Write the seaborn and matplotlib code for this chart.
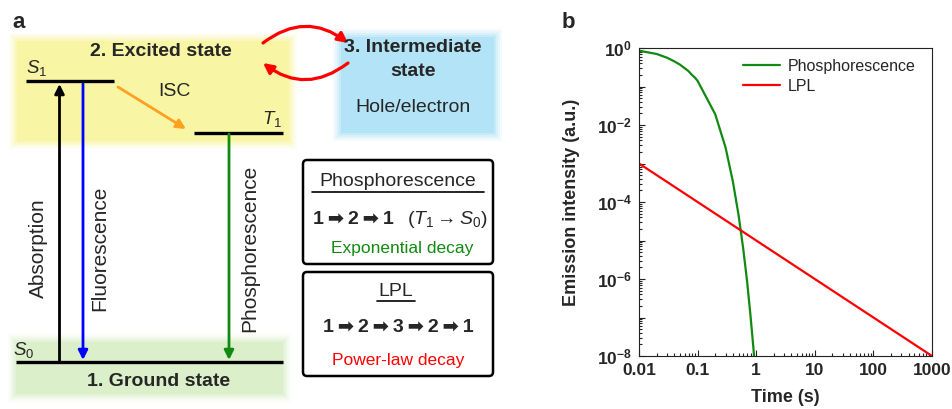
import matplotlib
matplotlib.use("Agg")
import numpy as np
import pandas as pd
import matplotlib.pyplot as plt
import seaborn as sns
from matplotlib.patches import Rectangle, FancyBboxPatch
from matplotlib.ticker import LogLocator, FuncFormatter, FixedLocator, NullFormatter

# ---- panel b data ----
ph_time = [0.01, 0.02, 0.03, 0.04, 0.05, 0.06, 0.07, 0.08, 0.09, 0.1,
           0.2, 0.3, 0.4, 0.5, 0.6, 0.7, 0.8, 0.9, 1.0]
ph_intensity = [0.85, 0.70, 0.56, 0.45, 0.37, 0.30, 0.25, 0.20, 0.17, 0.14,
                0.019, 2.6e-3, 3.4e-4, 4.6e-5, 6.2e-6, 8.5e-7, 1.1e-7, 1.5e-8, 2.0e-9]
lpl_time = [0.01, 0.1, 1, 10, 100, 1000]
lpl_intensity = [1e-3, 1e-4, 1e-5, 1e-6, 1e-7, 1e-8]
series_names = ["Phosphorescence", "LPL"]
series_colors = ["#118a11", "#ff0000"]
x_ticks = [0.01, 0.1, 1, 10, 100, 1000]
x_tick_labels = ["0.01", "0.1", "1", "10", "100", "1000"]
y_decades = [0, -1, -2, -3, -4, -5, -6, -7, -8]

sns.set_theme(style="ticks")
plt.rcParams["font.family"] = ["Liberation Sans", "DejaVu Sans"]
plt.rcParams["mathtext.fontset"] = "custom"
plt.rcParams["mathtext.rm"] = "Liberation Sans"
plt.rcParams["mathtext.it"] = "Liberation Sans:italic"
plt.rcParams["mathtext.bf"] = "Liberation Sans:bold"

W, H = 952, 409
fig = plt.figure(figsize=(W / 100, H / 100), dpi=100)

# ================= panel a : schematic (pixel coordinates) =================
ax = fig.add_axes([0, 0, 560 / W, 1])
ax.set_xlim(0, 560)
ax.set_ylim(H, 0)
ax.axis("off")


def soft_box(x0, y0, x1, y1, color):
    # fuzzy edged coloured area
    for p, a in [(8, 0.12), (6, 0.2), (4, 0.3), (2, 0.45)]:
        ax.add_patch(Rectangle((x0 - p, y0 - p), x1 - x0 + 2 * p, y1 - y0 + 2 * p,
                               facecolor=color, edgecolor="none", alpha=a, zorder=0))
    ax.add_patch(Rectangle((x0, y0), x1 - x0, y1 - y0, facecolor=color,
                           edgecolor="none", zorder=0))


def arrow(tail, tip, color, lw=2.0, rad=0.0, ms=14):
    ax.annotate("", xy=tip, xytext=tail,
                arrowprops=dict(arrowstyle="-|>", color=color, lw=lw,
                                mutation_scale=ms, shrinkA=0, shrinkB=0,
                                connectionstyle=f"arc3,rad={rad}"), zorder=3)


soft_box(17, 41, 289, 141, "#f8f6a4")
soft_box(16, 342, 283, 394, "#dcefcb")
soft_box(341, 37, 494, 133, "#b3e3f6")

fig.text(12 / W, 1 - 23 / H, "a", fontsize=16, fontweight="bold", va="center")

# energy levels
ax.plot([26, 114], [81, 81], color="black", lw=2.4, solid_capstyle="butt", zorder=2)
ax.plot([194, 283], [133, 133], color="black", lw=2.4, solid_capstyle="butt", zorder=2)
ax.plot([16, 283], [362, 362], color="black", lw=2.4, solid_capstyle="butt", zorder=2)

ax.text(37, 68, r"$S_1$", fontsize=13.5, ha="center", va="center")
ax.text(272, 119, r"$T_1$", fontsize=13.5, ha="center", va="center")
ax.text(24, 350, r"$S_0$", fontsize=13.5, ha="center", va="center")

# transitions
arrow((59.5, 362), (59.5, 84), "black")
arrow((83, 84), (83, 360), "#0000ff")
arrow((229, 134), (229, 360), "#118a11")
arrow((118, 87), (186, 129), "#ffa020")
arrow((263, 43), (348, 43), "#ff0000", lw=2.3, rad=-0.38, ms=15)
arrow((348, 63), (263, 63), "#ff0000", lw=2.3, rad=-0.38, ms=15)

ax.text(174, 92, "ISC", fontsize=14, ha="center", va="center")
ax.text(38, 248, "Absorption", fontsize=15, rotation=90, ha="center", va="center")
ax.text(100, 248, "Fluorescence", fontsize=15, rotation=90, ha="center", va="center")
ax.text(250, 248, "Phosphorescence", fontsize=15, rotation=90, ha="center", va="center")

ax.text(161, 52, "2. Excited state", fontsize=14, fontweight="bold", ha="center", va="center")
ax.text(159, 382, "1. Ground state", fontsize=14, fontweight="bold", ha="center", va="center")
ax.text(413, 48, "3. Intermediate", fontsize=14, fontweight="bold", ha="center", va="center")
ax.text(413, 72, "state", fontsize=14, fontweight="bold", ha="center", va="center")
ax.text(413, 107, "Hole/electron", fontsize=14, ha="center", va="center")

# explanation boxes
for y0 in [160, 272]:
    ax.add_patch(FancyBboxPatch((303, y0), 190, 104,
                                boxstyle="round,pad=0,rounding_size=4",
                                facecolor="white", edgecolor="black", lw=1.8, zorder=1))

ts = "\u2009"  # thin space
arr = ts + "\u27a1" + ts
ax.text(398, 182, "Phosphorescence", fontsize=14, ha="center", va="center")
ax.plot([312, 484], [192, 192], color="black", lw=1.2)
ax.text(353, 220, arr.join("121"), fontsize=14, fontweight="bold", ha="center", va="center")
ax.text(447, 220, r"($T_1$$\rightarrow$$S_0$)", fontsize=14, ha="center", va="center")
ax.text(402, 248, "Exponential decay", fontsize=12.5, color="#118a11", ha="center", va="center")

ax.text(396, 292, "LPL", fontsize=14, ha="center", va="center")
ax.plot([377, 415], [301, 301], color="black", lw=1.2)
ax.text(398, 327, arr.join("12321"), fontsize=14, fontweight="bold",
        ha="center", va="center")
ax.text(398, 360, "Power-law decay", fontsize=12.5, color="#ff0000", ha="center", va="center")

# ================= panel b : decay curves =================
df = pd.concat([
    pd.DataFrame({"time": ph_time, "intensity": ph_intensity, "kind": series_names[0]}),
    pd.DataFrame({"time": lpl_time, "intensity": lpl_intensity, "kind": series_names[1]}),
])

bx = fig.add_axes([639 / W, 53 / H, 293 / W, 308 / H])
sns.lineplot(data=df, x="time", y="intensity", hue="kind", hue_order=series_names,
             palette=dict(zip(series_names, series_colors)), lw=1.6, ax=bx,
             estimator=None, sort=True)
bx.set_xscale("log")
bx.set_yscale("log")
bx.set_xlim(0.01, 1000)
bx.set_ylim(1e-8, 1)

bx.xaxis.set_major_locator(FixedLocator(x_ticks))
bx.xaxis.set_major_formatter(FuncFormatter(lambda v, p: x_tick_labels[x_ticks.index(v)] if v in x_ticks else ""))
bx.xaxis.set_minor_locator(LogLocator(base=10, subs=np.arange(2, 10), numticks=50))
bx.xaxis.set_minor_formatter(NullFormatter())

bx.yaxis.set_major_locator(FixedLocator([10.0 ** d for d in y_decades]))
bx.yaxis.set_major_formatter(FuncFormatter(
    lambda v, p: r"$\mathbf{10^{%d}}$" % round(np.log10(v)) if round(np.log10(v)) % 2 == 0 else ""))
bx.yaxis.set_minor_locator(LogLocator(base=10, subs=np.arange(2, 10), numticks=50))
bx.yaxis.set_minor_formatter(NullFormatter())

bx.tick_params(which="both", direction="in", top=False, right=False, width=0.8, color="#222222")
bx.tick_params(which="major", length=4, labelsize=12.5, pad=5)
bx.tick_params(which="minor", length=2.2)
for lab in bx.get_xticklabels():
    lab.set_fontweight("bold")
for s in bx.spines.values():
    s.set_linewidth(0.8)
    s.set_color("#222222")

bx.set_xlabel("Time (s)", fontsize=13, fontweight="bold", labelpad=8)
bx.set_ylabel("Emission intensity (a.u.)", fontsize=13, fontweight="bold", labelpad=12)

leg = bx.legend(frameon=False, loc="upper left", bbox_to_anchor=(0.333, 0.985),
                fontsize=11.5, handlelength=2.3, labelspacing=0.3, handletextpad=0.5,
                borderaxespad=0)
for line in leg.get_lines():
    line.set_linewidth(1.6)

fig.text(562 / W, 1 - 22 / H, "b", fontsize=16, fontweight="bold", va="center")

fig.savefig("out.png", dpi=100)
